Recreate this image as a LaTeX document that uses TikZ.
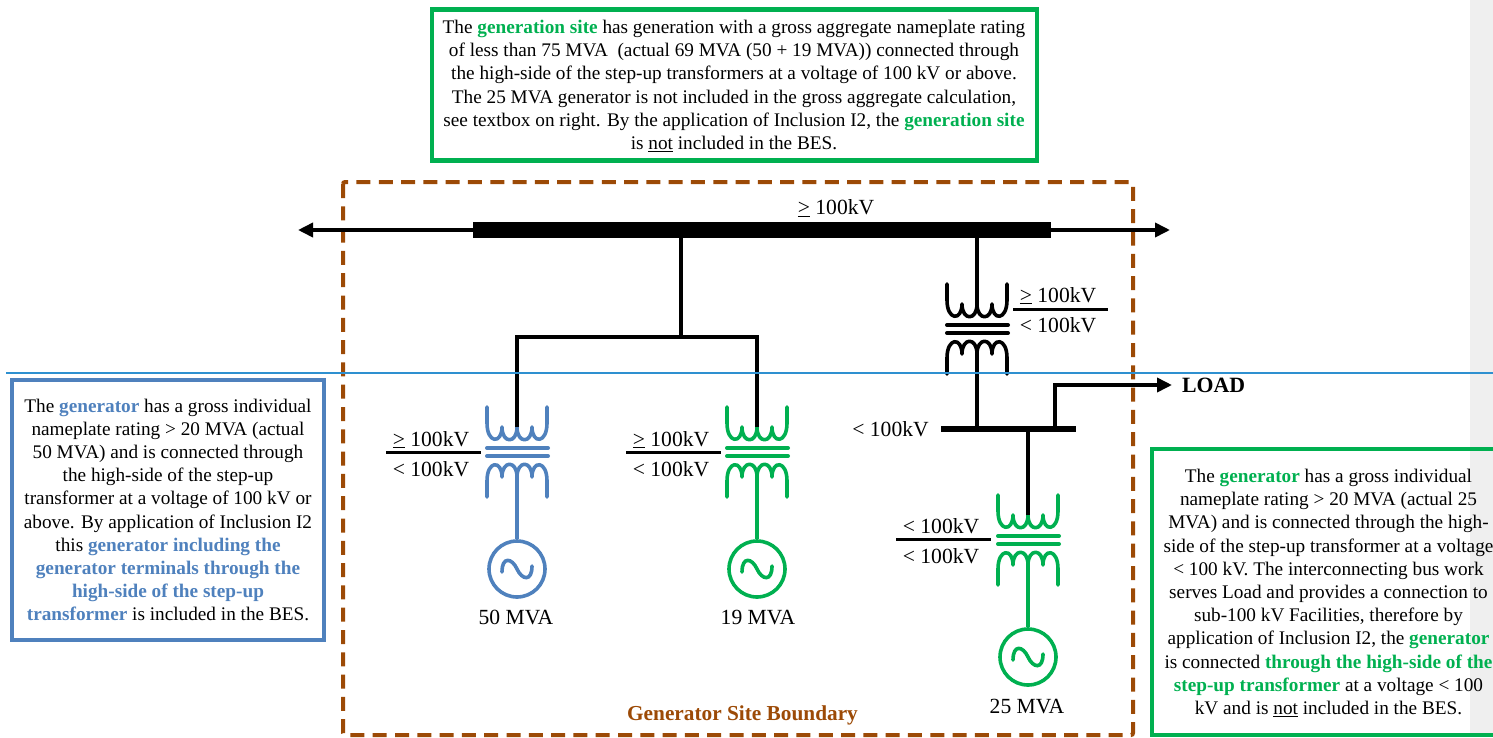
\documentclass[tikz,border=0pt]{standalone}
\usepackage{fontspec}
\setmainfont{Liberation Serif}
\usetikzlibrary{arrows.meta}

\definecolor{genblue}{HTML}{4F81BD}
\definecolor{gengreen}{HTML}{00B050}
\definecolor{siteborder}{HTML}{9C4A06}
\definecolor{cutline}{HTML}{2E90D0}
\definecolor{sidestrip}{HTML}{EFEFEF}

\newcommand{\hvkv}{\underline{>} 100kV}
\newcommand{\lvkv}{< 100kV}
\newcommand{\gbf}[1]{\textcolor{gengreen}{\textbf{#1}}}
\newcommand{\bbf}[1]{\textcolor{genblue}{\textbf{#1}}}

\tikzset{
  wire/.style={line width=3.6pt,black},
  arrowwire/.style={wire,-{Triangle[length=15pt,width=14pt]}},
  infotext/.style={align=center,inner sep=0pt,font=\fontsize{19.25}{23.2}\selectfont},
  infobox/.style={line width=4.5pt,draw=#1},
  label21/.style={inner sep=0pt,font=\fontsize{21.6}{24}\selectfont},
  busbar/.style={fill=black,inner sep=0pt},
  gensource/.style={circle,draw=#1,line width=3.6pt,inner sep=0pt,minimum size=56pt,
    path picture={\draw [#1,line width=3.6pt,line cap=round,shift={(path picture bounding box.center)}]
      (-15,3) .. controls (-15,-13) and (-5,-11) .. (0,0) .. controls (5,11) and (15,13) .. (15,-3);}},
  pics/xfmr/.style 2 args={code={
    \draw [#1,line width=3.6pt,line cap=round,line join=round] (-30,0) -- (-30,16)
      .. controls (-30,37) and (-15,37) .. (-15,20)
      .. controls (-15,37) and (0,37) .. (0,20)
      .. controls (0,37) and (15,37) .. (15,20)
      .. controls (15,37) and (30,37) .. (30,16) -- (30,0);
    \draw [#2,line width=3.6pt,line cap=round,line join=round] (-30,90) -- (-30,74)
      .. controls (-30,53) and (-15,53) .. (-15,70)
      .. controls (-15,53) and (0,53) .. (0,70)
      .. controls (0,53) and (15,53) .. (15,70)
      .. controls (15,53) and (30,53) .. (30,74) -- (30,90);
    \draw [#1,line width=4pt,line cap=round] (-30,41) -- (31,41);
    \draw [#2,line width=4pt,line cap=round] (-30,49) -- (31,49);
    \coordinate (-hv) at (0,20);
    \coordinate (-lv) at (0,70);
  }}
}

\begin{document}
\begin{tikzpicture}[x=1pt,y=-1pt]
\useasboundingbox (0,0) rectangle (1493,737);

\fill [sidestrip] (1470,0) rectangle (1493,737);

\draw [siteborder,line width=4pt,dash pattern=on 14pt off 8.3pt,rounded corners=2pt] (343,182) rectangle (1133,735);

\node [infobox=gengreen,minimum width=605pt,minimum height=151pt] (sitebox) at (734.5,85) {};
\node [infotext] (sitetext) at (734,86) {The \gbf{generation site} has generation with a gross aggregate nameplate rating\\
of less than 75 MVA~ (actual 69 MVA (50 + 19 MVA)) connected through\\
the high-side of the step-up transformers at a voltage of 100 kV or above.\\
The 25 MVA generator is not included in the gross aggregate calculation,\\
see textbox on right. By the application of Inclusion I2, the \gbf{generation site}\\
is \underline{not} included in the BES.};

\node [infobox=genblue,minimum width=312pt,minimum height=260pt] (bluebox) at (168,510) {};
\node [infotext] (bluetext) at (168,510) {The \bbf{generator} has a gross individual\\
nameplate rating > 20 MVA (actual\\
50 MVA) and is connected through\\
the high-side of the step-up\\
transformer at a voltage of 100 kV or\\
above. By application of Inclusion I2\\
this \bbf{generator including the}\\
\bbf{generator terminals through the}\\
\bbf{high-side of the step-up}\\
\bbf{transformer} is included in the BES.};

\coordinate (greenne) at (1493,449);
\coordinate (greense) at (1493,735);
\draw [line width=4.5pt,draw=gengreen] (greenne) -- (1152,449) -- (1152,735) -- (greense);
\node [infotext] (greentext) at (1328.5,593) {The \gbf{generator} has a gross individual\\
nameplate rating > 20 MVA (actual 25\\
MVA) and is connected through the high-\\
side of the step-up transformer at a voltage\\
< 100 kV. The interconnecting bus work\\
serves Load and provides a connection to\\
sub-100 kV Facilities, therefore by\\
application of Inclusion I2, the \gbf{generator}\\
is connected \gbf{through the high-side of the}\\
\gbf{step-up transformer} at a voltage < 100\\
kV and is \underline{not} included in the BES.};

\coordinate (linewest) at (298,230);
\coordinate (lineeast) at (1170,230);
\draw [arrowwire] (762,230) -- (linewest);
\draw [arrowwire] (762,230) -- (lineeast);
\node [busbar,minimum width=578pt,minimum height=16pt] (mainbus) at (762,230) {};
\node [label21] (mainkv) at (836,208.5) {\hvkv};

\pic (xfa) at (517,407) {xfmr={genblue}{genblue}};
\pic (xfb) at (757,407) {xfmr={gengreen}{gengreen}};
\pic (xfc) at (977,284) {xfmr={black}{black}};
\pic (xfd) at (1028,495) {xfmr={gengreen}{gengreen}};

\coordinate (tee) at (681,337);
\draw [wire] (mainbus.south -| tee) -- (tee);
\draw [wire] (xfa-hv) -- (xfa-hv |- tee) -- (xfb-hv |- tee) -- (xfb-hv);
\draw [wire] (mainbus.south -| xfc-hv) -- (xfc-hv);

\node [busbar,minimum width=135pt,minimum height=6pt] (loadbus) at (1008.5,429) {};
\node [label21] (loadbuskv) at (890.5,429.5) {\lvkv};
\draw [wire] (xfc-lv) -- (xfc-lv |- loadbus.north);
\draw [wire] (xfd-hv) -- (xfd-hv |- loadbus.south);

\coordinate (loadtap) at (1055,429);
\node [inner sep=0pt,font=\fontsize{21.8}{24}\selectfont\bfseries] (load) at (1213.5,385.5) {LOAD};
\coordinate (loadtip) at (1172,385);
\draw [arrowwire] (loadtap) -- (loadtap |- loadtip) -- (loadtip);

\node [gensource=genblue] (gena) at (517,569) {};
\node [gensource=gengreen] (genb) at (757,569) {};
\node [gensource=gengreen] (gend) at (1028,657) {};
\draw [genblue,line width=3.6pt] (xfa-lv) -- (gena.north);
\draw [gengreen,line width=3.6pt] (xfb-lv) -- (genb.north);
\draw [gengreen,line width=3.6pt] (xfd-lv) -- (gend.north);

\node [label21] (mvaa) at (516,617.5) {50 MVA};
\node [label21] (mvab) at (758,617.5) {19 MVA};
\node [label21] (mvad) at (1027,706.5) {25 MVA};

\node [label21] (ratioahi) at (431,439.5) {\hvkv};
\node [label21] (ratioalo) at (431,469.5) {\lvkv};
\coordinate (ratioaw) at (386,452);
\coordinate (ratioae) at (481,452);
\draw [wire,line width=3pt] (ratioaw) -- (ratioae);

\node [label21] (ratiobhi) at (671,439.5) {\hvkv};
\node [label21] (ratioblo) at (671,469.5) {\lvkv};
\coordinate (ratiobw) at (626,452);
\coordinate (ratiobe) at (721,452);
\draw [wire,line width=3pt] (ratiobw) -- (ratiobe);

\node [label21] (ratiochi) at (1058,295.5) {\hvkv};
\node [label21] (ratioclo) at (1058,325.5) {\lvkv};
\coordinate (ratiocw) at (1013,309);
\coordinate (ratioce) at (1108,309);
\draw [wire,line width=3pt] (ratiocw) -- (ratioce);

\node [label21] (ratiodhi) at (941,526.5) {\lvkv};
\node [label21] (ratiodlo) at (941,556.5) {\lvkv};
\coordinate (ratiodw) at (896,539);
\coordinate (ratiode) at (991,539);
\draw [wire,line width=3pt] (ratiodw) -- (ratiode);

\node [inner sep=0pt,text=siteborder,font=\fontsize{21.3}{24}\selectfont\bfseries] (sitename) at (742.5,715.5) {Generator Site Boundary};

\coordinate (cutwest) at (6,373);
\coordinate (cuteast) at (1493,373);
\draw [cutline,line width=1.6pt] (cutwest) -- (cuteast);

\end{tikzpicture}
\end{document}
